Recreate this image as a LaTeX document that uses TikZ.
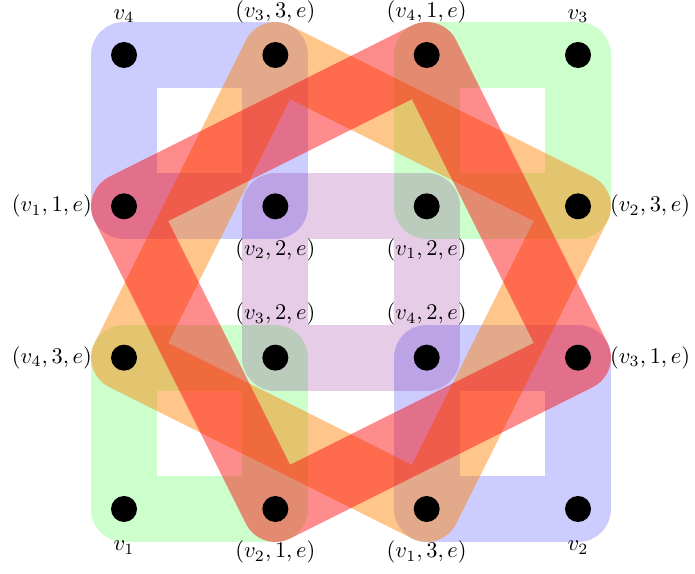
\documentclass[tikz,border=0pt]{standalone}
\usetikzlibrary{backgrounds}
\begin{document}
\begin{tikzpicture}[
    x=67.5pt, y=67.5pt,
    dot/.style={circle, fill=black, inner sep=0pt, minimum size=11.6pt},
    every label/.style={inner sep=3.33pt},
    label distance=4.8pt,
    band/.style={line width=29.4pt, line join=round, opacity=0.2},
    hot/.style={line width=29.4pt, line join=round, opacity=0.45}
]
    \useasboundingbox (-0.8196,-0.423) rectangle (3.773,3.3635);

    \node[dot, label=above:$v_4$] (v4) at (0,3) {};
    \node[dot, label=above:{$(v_3,3,e)$}] (v3e3) at (1,3) {};
    \node[dot, label=above:{$(v_4,1,e)$}] (v4e1) at (2,3) {};
    \node[dot, label=above:$v_3$] (v3) at (3,3) {};

    \node[dot, label=left:{$(v_1,1,e)$}] (v1e1) at (0,2) {};
    \node[dot, label=below:{$(v_2,2,e)$}] (v2e2) at (1,2) {};
    \node[dot, label=below:{$(v_1,2,e)$}] (v1e2) at (2,2) {};
    \node[dot, label=right:{$(v_2,3,e)$}] (v2e3) at (3,2) {};

    \node[dot, label=left:{$(v_4,3,e)$}] (v4e3) at (0,1) {};
    \node[dot, label=above:{$(v_3,2,e)$}] (v3e2) at (1,1) {};
    \node[dot, label=above:{$(v_4,2,e)$}] (v4e2) at (2,1) {};
    \node[dot, label=right:{$(v_3,1,e)$}] (v3e1) at (3,1) {};

    \node[dot, label=below:$v_1$] (v1) at (0,0) {};
    \node[dot, label=below:{$(v_2,1,e)$}] (v2e1) at (1,0) {};
    \node[dot, label=below:{$(v_1,3,e)$}] (v1e3) at (2,0) {};
    \node[dot, label=below:$v_2$] (v2) at (3,0) {};

    \begin{pgfonlayer}{background}
        \draw[band, blue] (v4.center) -- (v3e3.center) -- (v2e2.center) -- (v1e1.center) -- cycle;
        \draw[band, green] (v4e1.center) -- (v3.center) -- (v2e3.center) -- (v1e2.center) -- cycle;
        \draw[band, green] (v4e3.center) -- (v3e2.center) -- (v2e1.center) -- (v1.center) -- cycle;
        \draw[band, blue] (v4e2.center) -- (v3e1.center) -- (v2.center) -- (v1e3.center) -- cycle;
        \draw[band, violet] (v2e2.center) -- (v1e2.center) -- (v4e2.center) -- (v3e2.center) -- cycle;
        \draw[hot, orange] (v3e3.center) -- (v2e3.center) -- (v1e3.center) -- (v4e3.center) -- cycle;
        \draw[hot, red] (v1e1.center) -- (v4e1.center) -- (v3e1.center) -- (v2e1.center) -- cycle;
    \end{pgfonlayer}
\end{tikzpicture}
\end{document}
